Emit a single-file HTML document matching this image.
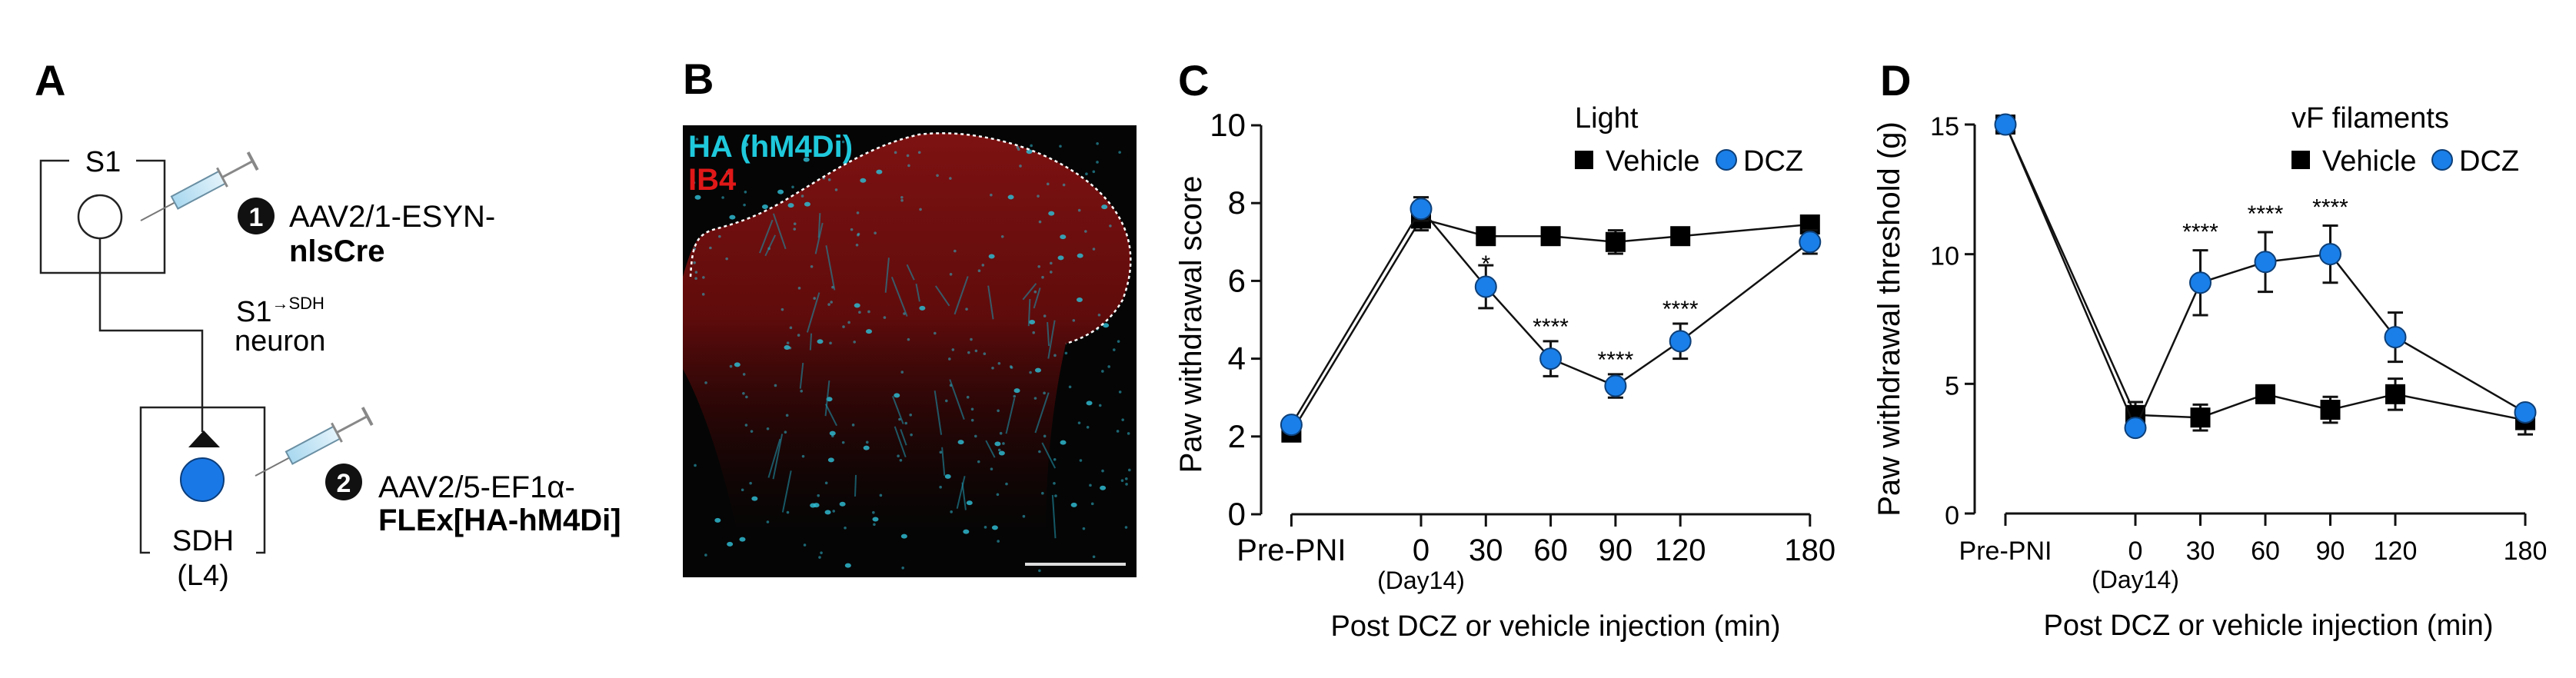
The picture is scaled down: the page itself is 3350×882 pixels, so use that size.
<!DOCTYPE html>
<html><head><meta charset="utf-8">
<style>
html,body{margin:0;padding:0;background:#fff;}
svg{display:block;font-family:"Liberation Sans",Arial,sans-serif;}
</style></head>
<body>
<svg id="fig" width="3350" height="882" viewBox="0 0 3350 882" xmlns="http://www.w3.org/2000/svg">
<defs>
<linearGradient id="redg" x1="0" y1="0" x2="0" y2="1">
<stop offset="0" stop-color="#7e1212" stop-opacity="1"/>
<stop offset="0.45" stop-color="#6a0c0c" stop-opacity="0.9"/>
<stop offset="0.75" stop-color="#3a0606" stop-opacity="0.5"/>
<stop offset="1" stop-color="#200303" stop-opacity="0"/>
</linearGradient>
<linearGradient id="syr" x1="0" y1="0" x2="1" y2="0">
<stop offset="0" stop-color="#a9d8ef"/><stop offset="1" stop-color="#e3f3fb"/>
</linearGradient>
</defs>
<rect width="3350" height="882" fill="#fff"/>

<!-- Panel A -->
<g>
<text x="45" y="124" font-size="56" font-weight="bold">A</text>
<path d="M90,209 H53 V355 H214 V209 H177" fill="none" stroke="#222" stroke-width="2.5"/>
<text x="134" y="223" font-size="38" text-anchor="middle">S1</text>
<circle cx="130" cy="282" r="28" fill="#fff" stroke="#222" stroke-width="2.5"/>
<path d="M130,310 V430 H263 V562" fill="none" stroke="#222" stroke-width="2.5"/>
<polygon points="245,582 286,582 265,560" fill="#111"/>
<path d="M195,719 H183 V530 H344 V719 H333" fill="none" stroke="#222" stroke-width="2.5"/>
<circle cx="263" cy="624" r="28" fill="#1a78e6" stroke="#0b3d7a" stroke-width="2"/>
<text x="264" y="716" font-size="38" text-anchor="middle">SDH</text>
<text x="264" y="761" font-size="38" text-anchor="middle">(L4)</text>
<g transform="translate(183,287) rotate(-28)">
<line x1="0" y1="0" x2="50" y2="0" stroke="#777" stroke-width="2"/>
<rect x="50" y="-9" width="70" height="18" fill="url(#syr)" stroke="#6a8fa3" stroke-width="2"/>
<line x1="120" y1="0" x2="165" y2="0" stroke="#888" stroke-width="3"/>
<line x1="120" y1="-14" x2="120" y2="14" stroke="#888" stroke-width="3"/>
<line x1="165" y1="-13" x2="165" y2="13" stroke="#888" stroke-width="4"/>
</g>
<g transform="translate(332,619) rotate(-28)">
<line x1="0" y1="0" x2="50" y2="0" stroke="#777" stroke-width="2"/>
<rect x="50" y="-9" width="70" height="18" fill="url(#syr)" stroke="#6a8fa3" stroke-width="2"/>
<line x1="120" y1="0" x2="165" y2="0" stroke="#888" stroke-width="3"/>
<line x1="120" y1="-14" x2="120" y2="14" stroke="#888" stroke-width="3"/>
<line x1="165" y1="-13" x2="165" y2="13" stroke="#888" stroke-width="4"/>
</g>
<circle cx="333" cy="281" r="24" fill="#111"/>
<text x="333" y="294" font-size="34" font-weight="bold" fill="#fff" text-anchor="middle">1</text>
<text x="376" y="295" font-size="40">AAV2/1-ESYN-</text>
<text x="376" y="340" font-size="40" font-weight="bold">nlsCre</text>
<text x="307" y="418" font-size="38">S1<tspan font-size="22" dy="-16">→SDH</tspan></text>
<text x="305" y="456" font-size="38">neuron</text>
<circle cx="447" cy="627" r="24" fill="#111"/>
<text x="447" y="640" font-size="34" font-weight="bold" fill="#fff" text-anchor="middle">2</text>
<text x="492" y="647" font-size="40">AAV2/5-EF1α-</text>
<text x="492" y="690" font-size="40" font-weight="bold">FLEx[HA-hM4Di]</text>
</g>

<!-- Panel B -->
<g>
<text x="888" y="122" font-size="56" font-weight="bold">B</text>
<rect x="888" y="163" width="590" height="588" fill="#050505"/>
<path d="M888,360 C900,320 905,305 930,298 C960,290 990,280 1030,255 C1080,225 1130,190 1195,175 C1280,165 1380,200 1430,250 C1480,300 1475,350 1460,390 C1440,425 1410,440 1386,447 C1370,520 1360,600 1360,700 L960,700 C940,600 910,520 888,480 Z" fill="url(#redg)"/>
<g id="dots"></g>
<path d="M898,360 C900,320 905,305 930,298 C960,290 990,280 1030,255 C1080,225 1130,190 1195,175 C1280,165 1380,200 1430,250 C1480,300 1475,350 1460,390 C1440,425 1410,440 1386,447" fill="none" stroke="#fff" stroke-width="2.5" stroke-dasharray="4,4"/>
<text x="895" y="204" font-size="40" font-weight="bold" fill="#1fc9dc">HA (hM4Di)</text>
<text x="895" y="247" font-size="40" font-weight="bold" fill="#e01818">IB4</text>
<line x1="1333" y1="734" x2="1464" y2="734" stroke="#ddd" stroke-width="4"/>
</g>

<g id="chartC">
<text x="1532" y="124" font-size="56" font-weight="bold">C</text>
</g>
<g id="chartD">
<text x="2445" y="124" font-size="56" font-weight="bold">D</text>
</g>
</svg>

<script>
// ---------- Panel C data ----------
const catLabels = ["Pre-PNI","0","30","60","90","120","180"];
const catMinutes = [-60,0,30,60,90,120,180];
const cVehicle = [2.1,7.6,7.15,7.15,7.0,7.15,7.45];
const cVehicleErr = [0.15,0.3,0.15,0.15,0.3,0.1,0.2];
const cDCZ = [2.3,7.85,5.85,4.0,3.3,4.45,7.0];
const cDCZErr = [0.1,0.3,0.55,0.45,0.3,0.45,0.3];
const cStars = ["","","*","****","****","****",""];
const cTicks = [0,2,4,6,8,10];
// ---------- Panel D data ----------
const dVehicle = [15,3.8,3.7,4.6,4.0,4.6,3.6];
const dVehicleErr = [0.2,0.5,0.5,0.2,0.5,0.6,0.55];
const dDCZ = [15,3.3,8.9,9.7,10.0,6.8,3.9];
const dDCZErr = [0.1,0.2,1.25,1.15,1.1,0.95,0.2];
const dStars = ["","","****","****","****","",""];
const dTicks = [0,5,10,15];

const NS = "http://www.w3.org/2000/svg";
function mk(parent, tag, attrs, text){
  const e = document.createElementNS(NS, tag);
  for (const k in attrs) e.setAttribute(k, attrs[k]);
  if (text !== undefined) e.textContent = text;
  parent.appendChild(e);
  return e;
}

function drawChart(g, cfg){
  const xS = m => cfg.x0 + m * cfg.pxPerMin;
  const yS = v => cfg.yBase - (v / cfg.yMax) * (cfg.yBase - cfg.yTop);
  const ya = mk(g,"line",{x1:cfg.axisX,y1:yS(cfg.yMax),x2:cfg.axisX,y2:cfg.yBase,stroke:"#111","stroke-width":3});
  
  
  cfg.ticks.forEach(t=>{
    mk(g,"line",{x1:cfg.axisX-13,y1:yS(t),x2:cfg.axisX,y2:yS(t),stroke:"#111","stroke-width":3});
    const tl = mk(g,"text",{x:cfg.axisX-20,y:yS(t)+14,"font-size":cfg.tickFont,"text-anchor":"end"},String(t));
    
    
  });
  const xa = mk(g,"line",{x1:xS(catMinutes[0]),y1:cfg.yBase,x2:xS(catMinutes[catMinutes.length-1]),y2:cfg.yBase,stroke:"#111","stroke-width":3});
  
  
  catMinutes.forEach((m,i)=>{
    mk(g,"line",{x1:xS(m),y1:cfg.yBase,x2:xS(m),y2:cfg.yBase+16,stroke:"#111","stroke-width":3});
    const tl = mk(g,"text",{x:xS(m),y:cfg.yBase+60,"font-size":cfg.xTickFont,"text-anchor":"middle"},catLabels[i]);
    
    
  });
  const d14 = mk(g,"text",{x:xS(0),y:cfg.yBase+97,"font-size":32,"text-anchor":"middle"},"(Day14)");
  
  
  const xt = mk(g,"text",{x:cfg.xTitleX,y:cfg.yBase+158,"font-size":38,"text-anchor":"middle"},"Post DCZ or vehicle injection (min)");
  
  
  const yt = mk(g,"text",{x:0,y:0,"font-size":cfg.yTitleFont,"text-anchor":"middle",transform:`translate(${cfg.yTitleX},${cfg.yTitleY}) rotate(-90)`},cfg.yTitle);
  
  

  function series(vals, errs, kind, name){
    const pts = vals.map((v,i)=>[xS(catMinutes[i]), yS(v)]);
    const ln = mk(g,"polyline",{points:pts.map(p=>p.join(",")).join(" "),fill:"none",stroke:"#111","stroke-width":2.5});
    
    
    vals.forEach((v,i)=>{
      const x = xS(catMinutes[i]);
      const top = yS(v+errs[i]), bot = yS(v-errs[i]);
      const eb = mk(g,"path",{d:`M${x},${top}V${bot}M${x-10},${top}H${x+10}M${x-10},${bot}H${x+10}`,stroke:"#111","stroke-width":3,fill:"none"});
      
      
    });
    vals.forEach((v,i)=>{
      const x = xS(catMinutes[i]), y = yS(v);
      let m;
      if (kind==="square") m = mk(g,"rect",{x:x-13,y:y-13,width:26,height:26,fill:"#000"});
      else m = mk(g,"circle",{cx:x,cy:y,r:13.5,fill:"#1a7fe8",stroke:"#0d3f78","stroke-width":2});
      
      
    });
  }
  series(cfg.veh, cfg.vehErr, "square", "vehicle");
  series(cfg.dcz, cfg.dczErr, "circle", "dcz");
  cfg.stars.forEach((s,i)=>{
    if(!s) return;
    const top = yS(cfg.dcz[i]+cfg.dczErr[i]);
    const off = s.length === 1 ? 8 : cfg.starOff;
    const st = mk(g,"text",{x:xS(catMinutes[i]),y:top-off+16,"font-size":30,"text-anchor":"middle"},s);
    
    
  });
  const lt = mk(g,"text",{x:cfg.legX,y:cfg.legY-20,"font-size":38},cfg.legTitle);
  
  
  const ls = mk(g,"rect",{x:cfg.legX,y:cfg.legY+10,width:24,height:24,fill:"#000"});
  
  
  const lv = mk(g,"text",{x:cfg.legX+40,y:cfg.legY+36,"font-size":38},"Vehicle");
  
  
  const lc = mk(g,"circle",{cx:cfg.legDX,cy:cfg.legY+22,r:13,fill:"#1a7fe8",stroke:"#0d3f78","stroke-width":2});
  
  
  const ld = mk(g,"text",{x:cfg.legDX+22,y:cfg.legY+36,"font-size":38},"DCZ");
  
  
}

drawChart(document.getElementById("chartC"),{
  x0:1848, pxPerMin:84.3/30, axisX:1640, yBase:669, yTop:163, yMax:10, ticks:cTicks,
  tickFont:42, xTickFont:40, xTitleX:2023, yTitle:"Paw withdrawal score", yTitleX:1562, yTitleY:422, yTitleFont:40,
  veh:cVehicle, vehErr:cVehicleErr, dcz:cDCZ, dczErr:cDCZErr, stars:cStars, starOff:25,
  legTitle:"Light", legX:2048, legY:186, legDX:2245
});
drawChart(document.getElementById("chartD"),{
  x0:2777, pxPerMin:(3284-2777)/180, axisX:2568, yBase:668, yTop:162, yMax:15, ticks:dTicks,
  tickFont:34, xTickFont:34, xTitleX:2950, yTitle:"Paw withdrawal threshold (g)", yTitleX:2470, yTitleY:415, yTitleFont:40,
  veh:dVehicle, vehErr:dVehicleErr, dcz:dDCZ, dczErr:dDCZErr, stars:dStars, starOff:30,
  legTitle:"vF filaments", legX:2980, legY:186, legDX:3176
});

(function(){
  const g = document.getElementById("dots");
  let s = 12345;
  const r = ()=>{ s = (s*1103515245+12345) % 2147483648; return s/2147483648; };
  for (let i=0;i<260;i++){
    const x = 900 + r()*570, y = 180 + r()*565;
    const big = r()<0.25;
    mk(g,"ellipse",{cx:x,cy:y,rx:big?4:1.8,ry:big?3:1.8,fill:"#2fb8cf",opacity:big?0.85:0.55});
  }
  for (let i=0;i<40;i++){
    const x1 = 1000 + r()*380, y1 = 260 + r()*400;
    mk(g,"line",{x1:x1,y1:y1,x2:x1+(r()-0.5)*40,y2:y1+20+r()*40,stroke:"#1e8fa6","stroke-width":2,opacity:0.6});
  }
})();
</script>
</body></html>
